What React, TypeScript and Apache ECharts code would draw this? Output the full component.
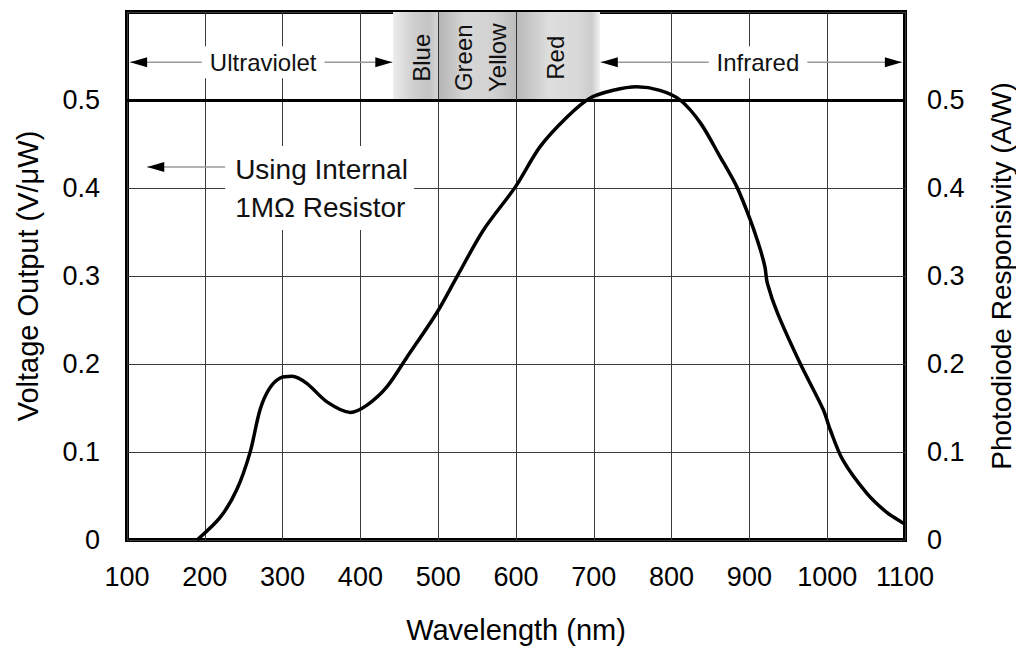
import React, { useEffect, useRef } from "react";
import * as echarts from "echarts";

// ---- data ----
const xTicks = [100, 200, 300, 400, 500, 600, 700, 800, 900, 1000, 1100];
const yTicks = [0, 0.1, 0.2, 0.3, 0.4, 0.5];
const wavelengthNm = [
  190, 220, 241, 258, 271, 283, 297, 312, 331, 357, 387, 408, 434, 460,
  498, 524, 558, 599, 631, 666, 695, 725, 755, 785, 811, 837, 862, 884, 901,
  914, 920, 923, 936, 965, 995, 1004, 1020, 1051, 1077, 1096, 1100,
];
const responsivity = [
  0, 0.026, 0.057, 0.099, 0.148, 0.172, 0.184, 0.186, 0.178, 0.157,
  0.145, 0.153, 0.174, 0.208, 0.258, 0.299, 0.352, 0.401, 0.447, 0.481, 0.502,
  0.511, 0.515, 0.511, 0.5, 0.474, 0.436, 0.401, 0.364, 0.33, 0.31, 0.292,
  0.258, 0.201, 0.148, 0.125, 0.091, 0.053, 0.031, 0.02, 0.018,
];
const bandNames = ["Blue", "Green/Yellow", "Red"];
const bandFrom = [442, 500, 600];
const bandTo = [500, 600, 708];
const bandLabels = ["Blue", "Green", "Yellow", "Red"];
const bandLabelNm = [479, 532, 576, 651];

const FONT = "'Liberation Sans', Arial, sans-serif";

export default function App() {
  const ref = useRef<HTMLDivElement>(null);

  useEffect(() => {
    if (!ref.current) return;
    const chart = echarts.init(ref.current, undefined, { renderer: "svg" });

    const grad = (stops: [number, string][]) =>
      new echarts.graphic.LinearGradient(
        0, 0, 1, 0,
        stops.map(([offset, color]) => ({ offset, color }))
      );
    const bandGradients = [
      grad([[0, "#ececec"], [0.45, "#cfcfcf"], [0.8, "#c4c4c4"], [1, "#d4d4d4"]]),
      grad([[0, "#b4b4b4"], [0.35, "#d6d6d6"], [0.7, "#d2d2d2"], [1, "#bcbcbc"]]),
      grad([[0, "#b8b8b8"], [0.4, "#dedede"], [0.75, "#d8d8d8"], [0.9, "#cccccc"], [1, "#f4f4f4"]]),
    ];

    const yFmt = (v: number) =>
      v === 0 ? "0" : v > 0.55 ? "" : (Math.round(v * 10) / 10).toFixed(1);

    const axisLabel = { fontFamily: FONT, fontSize: 27, color: "#000" };

    chart.setOption({
      animation: false,
      backgroundColor: "#fff",
      grid: {
        left: 127,
        right: 119,
        top: 12,
        bottom: 117,
        show: true,
        borderColor: "#000",
        borderWidth: 4,
        backgroundColor: "transparent",
      },
      xAxis: {
        type: "value",
        min: xTicks[0],
        max: xTicks[xTicks.length - 1],
        interval: 100,
        axisLine: { show: false },
        axisTick: { show: false },
        axisLabel: { ...axisLabel, margin: 23, formatter: (v: number) => String(v) },
        splitLine: { show: true, lineStyle: { color: "#3a3a3a", width: 1 } },
        name: "Wavelength (nm)",
        nameLocation: "middle",
        nameGap: 75,
        nameTextStyle: { fontFamily: FONT, fontSize: 29, color: "#000" },
      },
      yAxis: [
        {
          type: "value",
          min: 0,
          max: 0.6,
          interval: 0.1,
          axisLine: { show: false },
          axisTick: { show: false },
          axisLabel: { ...axisLabel, margin: 27, formatter: yFmt },
          splitLine: { show: true, lineStyle: { color: "#3a3a3a", width: 1 } },
          name: "Voltage Output (V/μW)",
          nameLocation: "middle",
          nameGap: 85,
          nameTextStyle: { fontFamily: FONT, fontSize: 29, color: "#000" },
        },
        {
          type: "value",
          position: "right",
          min: 0,
          max: 0.6,
          interval: 0.1,
          axisLine: { show: false },
          axisTick: { show: false },
          axisLabel: { ...axisLabel, margin: 22, formatter: yFmt },
          splitLine: { show: false },
          name: "Photodiode Responsivity (A/W)",
          nameLocation: "middle",
          nameGap: 82,
          nameTextStyle: { fontFamily: FONT, fontSize: 28, color: "#000" },
        },
      ],
      series: [
        {
          type: "line",
          data: wavelengthNm.map((w, i) => [w, responsivity[i]]),
          showSymbol: false,
          symbol: "none",
          smooth: 0.3,
          lineStyle: { color: "#000", width: 3.5 },
          z: 5,
          markArea: {
            silent: true,
            data: bandNames.map((n, i) => [
              { name: n, xAxis: bandFrom[i], yAxis: 0.5, itemStyle: { color: bandGradients[i] } },
              { xAxis: bandTo[i], yAxis: 0.6 },
            ]),
            label: { show: false },
          },
          markLine: {
            silent: true,
            symbol: "none",
            label: { show: false },
            data: [
              { yAxis: 0.5, lineStyle: { color: "#000", width: 3, type: "solid" } },
              [
                { coord: [500, 0.5], lineStyle: { color: "#333", width: 1, type: "solid" } },
                { coord: [500, 0.6] },
              ],
              [
                { coord: [600, 0.5], lineStyle: { color: "#333", width: 1, type: "solid" } },
                { coord: [600, 0.6] },
              ],
            ],
          },
        },
      ],
    });

    const px = (x: number, y: number) =>
      chart.convertToPixel({ gridIndex: 0 }, [x, y]) as number[];

    const arrowHead = (tip: number[], dir: number) => ({
      type: "polygon",
      z: 10,
      shape: {
        points: [
          [tip[0], tip[1]],
          [tip[0] + dir * 17, tip[1] - 5],
          [tip[0] + dir * 17, tip[1] + 5],
        ],
      },
      style: { fill: "#000" },
    });
    const grayLine = (a: number[], b: number[]) => ({
      type: "line",
      z: 9,
      shape: { x1: a[0], y1: a[1], x2: b[0], y2: b[1] },
      style: { stroke: "#9a9a9a", lineWidth: 1.5 },
    });

    const arrowY = 0.543;
    const uvL = px(104, arrowY);
    const uvR = px(441, arrowY);
    const uvC = px(275, arrowY);
    const irL = px(709, arrowY);
    const irR = px(1096, arrowY);
    const irC = px(911, arrowY);
    const useTip = px(126, 0.424);
    const useEnd = px(230, 0.424);
    const useText = px(230, 0.4);

    const labelText = (p: number[], text: string, size: number, rotate = 0) => ({
      type: "text",
      z: 12,
      x: p[0],
      y: p[1],
      rotation: rotate,
      style: {
        text,
        fontFamily: FONT,
        fontSize: size,
        fill: "#111",
        align: "center",
        verticalAlign: "middle",
        backgroundColor: rotate ? undefined : "#fff",
        padding: rotate ? 0 : [4, 8],
      },
    });

    const graphic: any[] = [
      grayLine(uvL, uvR),
      arrowHead(uvL, 1),
      arrowHead(uvR, -1),
      labelText(uvC, "Ultraviolet", 24),
      grayLine(irL, irR),
      arrowHead(irL, 1),
      arrowHead(irR, -1),
      labelText(irC, "Infrared", 24),
      grayLine(useTip, useEnd),
      arrowHead(useTip, 1),
      {
        type: "text",
        z: 12,
        x: useText[0] - 3,
        y: useText[1],
        style: {
          text: "Using Internal\n1MΩ Resistor",
          fontFamily: FONT,
          fontSize: 28,
          lineHeight: 38,
          fill: "#111",
          align: "left",
          verticalAlign: "middle",
          backgroundColor: "#fff",
          padding: [2, 6, 6, 10],
        },
      },
    ];
    bandLabels.forEach((t, i) => {
      graphic.push(labelText(px(bandLabelNm[i], 0.548), t, 24, Math.PI / 2));
    });

    chart.setOption({ graphic });

    return () => chart.dispose();
  }, []);

  return <div ref={ref} style={{ width: 1024, height: 657, margin: -8 }} />;
}
